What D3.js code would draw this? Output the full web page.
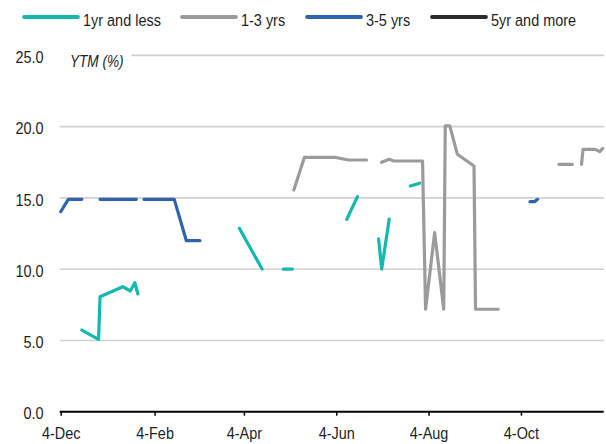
<!DOCTYPE html>
<html>
<head>
<meta charset="utf-8">
<script src="https://cdn.jsdelivr.net/npm/d3@7/dist/d3.min.js"></script>
<style>
  html, body { margin: 0; padding: 0; background: #fff; }
  svg { display: block; }
  text { font-family: "Liberation Sans Narrow", "Arial Narrow", "Liberation Sans", sans-serif; fill: #1e1e1e; }
</style>
</head>
<body>
<svg id="chart" width="606" height="444"></svg>
<script>
// ---- data ----
const seriesNames = ["1yr and less", "1-3 yrs", "3-5 yrs", "5yr and more"];
const seriesColors = ["#13b8ae", "#9b9b9b", "#2f64ad", "#2b2b2b"];

const shortDates = ["2022-12-18","2022-12-29","2022-12-30","2023-01-14","2023-01-19","2023-01-22","2023-01-24","2023-03-01",
  "2023-04-01","2023-04-09","2023-04-16","2023-04-23","2023-04-30","2023-05-06","2023-05-20",
  "2023-06-11","2023-06-18","2023-06-25","2023-07-02","2023-07-04","2023-07-09","2023-07-16","2023-07-23","2023-07-29"];
const shortValues = [5.73,5.08,8.07,8.77,8.47,9.05,8.26,null,
  12.87,11.35,10.01,null,10.01,10.01,null,
  13.5,15.09,null,12.12,10.01,13.52,null,15.84,16.03];

const midDates = ["2023-05-07","2023-05-14","2023-06-03","2023-06-12","2023-06-24","2023-06-28","2023-07-04","2023-07-09",
  "2023-07-12","2023-07-31","2023-08-02","2023-08-08","2023-08-14","2023-08-15","2023-08-18","2023-08-23","2023-09-03",
  "2023-09-04","2023-09-19","2023-10-10","2023-10-29","2023-11-07","2023-11-10","2023-11-13","2023-11-14","2023-11-22",
  "2023-11-25","2023-11-27"];
const midValues = [15.56,17.85,17.85,17.66,17.66,null,17.5,17.71,
  17.59,17.59,7.19,12.56,7.19,20.05,20.05,18.06,17.24,
  7.19,7.19,null,17.36,17.36,null,17.36,18.41,18.41,
  18.25,18.48];

const longDates = ["2022-12-04","2022-12-09","2022-12-18","2022-12-24","2022-12-30","2023-01-23","2023-01-25","2023-01-28",
  "2023-02-17","2023-02-25","2023-03-06","2023-06-01","2023-10-10","2023-10-13","2023-10-15"];
const longValues = [14.03,14.9,14.9,null,14.9,14.9,null,14.9,
  14.9,12.0,12.0,null,14.74,14.74,14.9];

const longestDates = [];
const longestValues = [];

const yTicks = [0, 5, 10, 15, 20, 25];
const xTickDates = ["2022-12-04","2023-02-04","2023-04-04","2023-06-04","2023-08-04","2023-10-04"];
const xDomain = ["2022-12-04", "2023-11-27"];
const yLabel = "YTM (%)";

// ---- layout ----
const svg = d3.select("#chart");
const mLeft = 60.7, mRight = 602.7, mTop = 55.4, mBottom = 411.7;
const narrow = 0.85;
const parse = d3.utcParse("%Y-%m-%d");

const x = d3.scaleUtc().domain(xDomain.map(parse)).range([mLeft, mRight]);
const y = d3.scaleLinear().domain([0, 25]).range([mBottom, mTop]);

// gridlines
svg.append("g").selectAll("line")
  .data(yTicks.filter(v => v > 0))
  .join("line")
  .attr("x1", v => v === 25 ? 131.5 : mLeft - 1)
  .attr("x2", 604)
  .attr("y1", v => y(v)).attr("y2", v => y(v))
  .attr("stroke", "#cfd1d1").attr("stroke-width", 1.6);

// y labels
svg.append("g").selectAll("text")
  .data(yTicks)
  .join("text")
  .attr("transform", v => `translate(43.5,${y(v)}) scale(${narrow},1)`)
  .attr("dy", "0.45em")
  .attr("text-anchor", "end")
  .attr("font-size", 17)
  .text(d3.format(".1f"));

svg.append("text")
  .attr("transform", `translate(70,66.5) scale(${narrow},1)`)
  .attr("font-size", 16).attr("font-style", "italic")
  .text(yLabel);

// x axis
const xAxis = d3.axisBottom(x)
  .tickValues(xTickDates.map(parse))
  .tickFormat(d3.utcFormat("%-d-%b"))
  .tickSize(4)
  .tickSizeOuter(0);
const gx = svg.append("g").attr("transform", `translate(0,${mBottom})`).call(xAxis);
gx.select(".domain").attr("stroke", "#000").attr("stroke-width", 2).attr("d", `M${mLeft - 1},0H${mRight + 1}`);
gx.selectAll(".tick line").attr("stroke", "#000").attr("stroke-width", 1.5);
gx.selectAll(".tick text")
  .attr("font-size", 17).attr("font-family", null)
  .attr("y", 14).attr("dy", "0.8em").attr("fill", "#1e1e1e")
  .attr("transform", `scale(${narrow},1)`);

// series lines
const seriesData = [
  [shortDates, shortValues],
  [midDates, midValues],
  [longDates, longValues],
  [longestDates, longestValues]
];
const line = d3.line()
  .defined(d => d.v !== null)
  .x(d => x(d.date))
  .y(d => y(d.v));

seriesData.forEach(([ds, vs], i) => {
  const pts = ds.map((s, k) => ({ date: parse(s), v: vs[k] }));
  svg.append("path")
    .datum(pts)
    .attr("fill", "none")
    .attr("stroke", seriesColors[i])
    .attr("stroke-width", 3.2)
    .attr("stroke-linejoin", "round")
    .attr("stroke-linecap", "round")
    .attr("d", line);
});

// legend
const legendX = [24, 182, 307, 432];
const lg = svg.append("g").selectAll("g")
  .data(seriesNames)
  .join("g")
  .attr("transform", (d, i) => `translate(${legendX[i]},0)`);
lg.append("line")
  .attr("x1", 0).attr("x2", 54).attr("y1", 17).attr("y2", 17)
  .attr("stroke", (d, i) => seriesColors[i])
  .attr("stroke-width", 3.8)
  .attr("stroke-linecap", "round");
lg.append("text")
  .attr("transform", `translate(59,26) scale(${narrow},1)`)
  .attr("font-size", 17)
  .text(d => d);
</script>
</body>
</html>
